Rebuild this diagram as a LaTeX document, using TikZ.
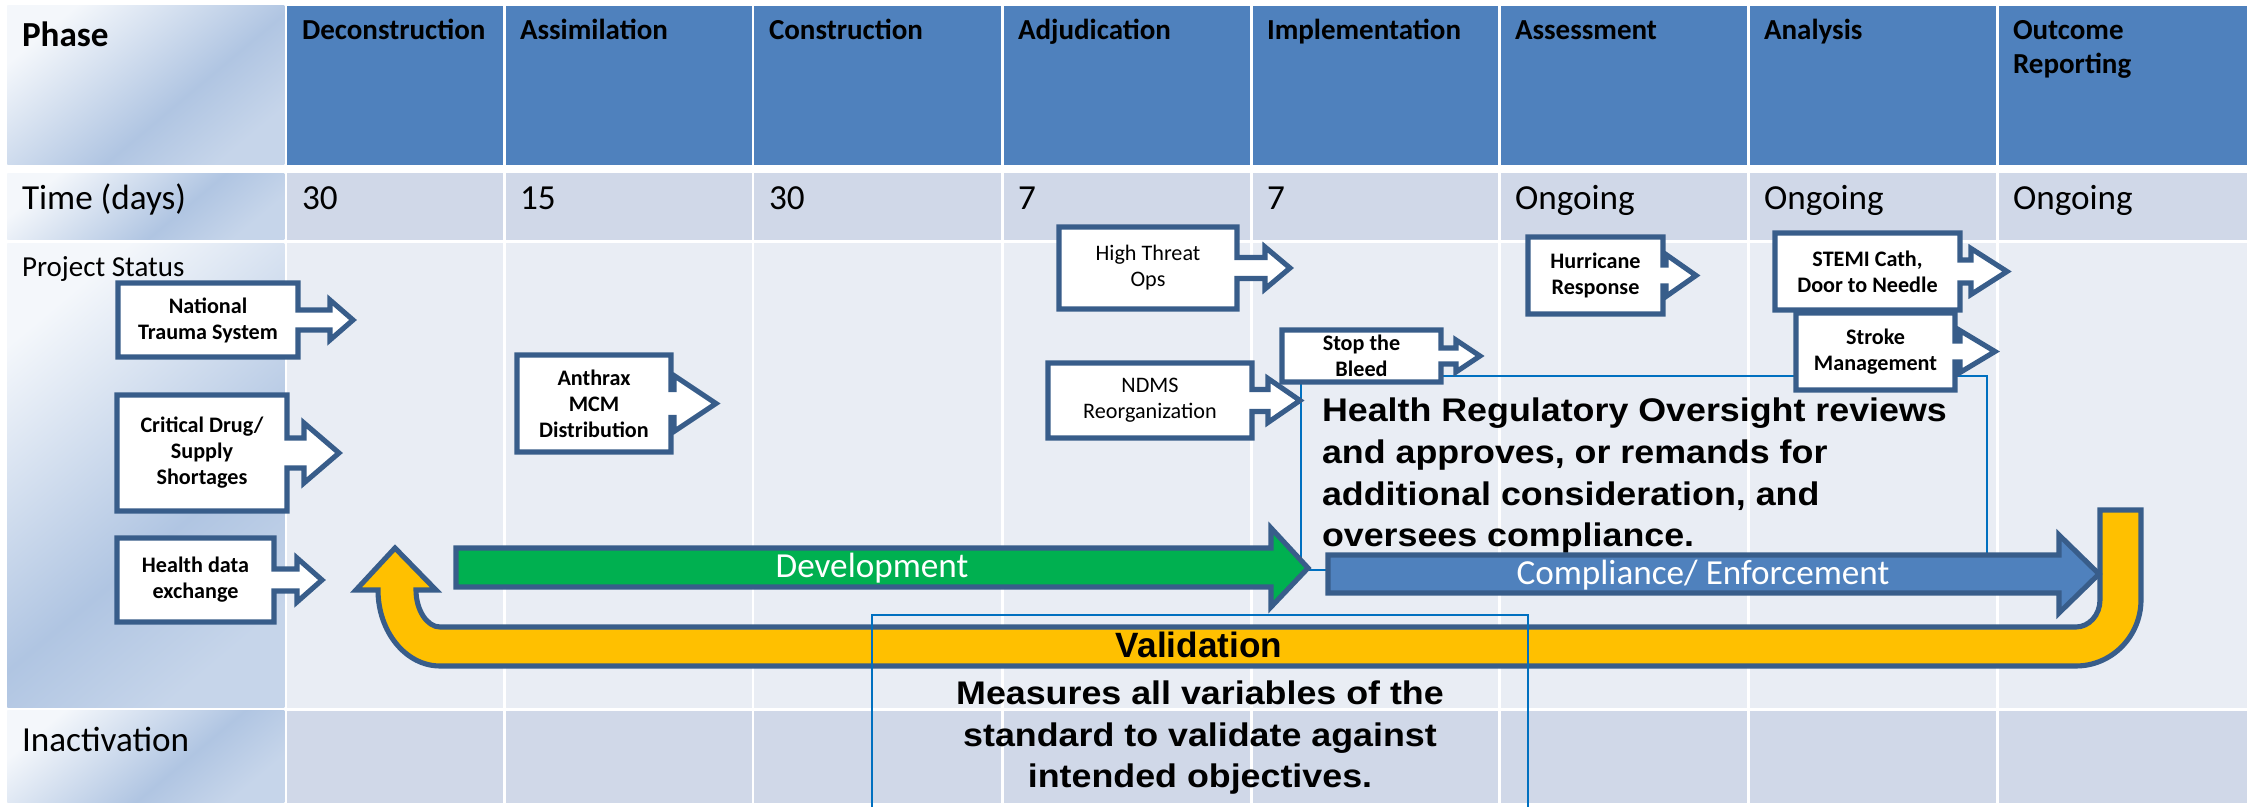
\documentclass[tikz,border=0pt]{standalone}
\usepackage{fontspec}
\setmainfont{Carlito}
\newfontfamily\arialx[FakeStretch=1.095]{Liberation Sans}
\newfontfamily\arialn{Liberation Sans}
\definecolor{hdr}{HTML}{4F81BD}
\definecolor{bandA}{HTML}{D0D8E8}
\definecolor{bandB}{HTML}{E9EDF4}
\definecolor{edge}{HTML}{385D8A}
\definecolor{grn}{HTML}{00B050}
\definecolor{ylw}{HTML}{FFC000}
\definecolor{thin}{HTML}{0070C0}
\definecolor{phA}{HTML}{F4F7FB}
\definecolor{phB}{HTML}{B0C5E2}
\definecolor{phC}{HTML}{C6D5EA}
\pgfdeclareverticalshading{phaseshade}{100bp}{color(0bp)=(phC); color(25bp)=(phC); color(42bp)=(phB); color(75bp)=(phA); color(100bp)=(phA)}
\def\callweight{\bfseries}
\newcommand{\callout}[9]{%
  \pgfmathsetmacro{\cyy}{(#3+#5)/2}%
  \pgfmathsetmacro{\shh}{#8*0.5}%
  \pgfmathsetmacro{\cxx}{(#2+#4)/2}%
  \draw[callbox] (#2,#3) -- (#4,#3) -- (#4,\cyy-\shh) -- (#6,\cyy-\shh) -- (#6,\cyy-#8) -- (#7,\cyy) -- (#6,\cyy+#8) -- (#6,\cyy+\shh) -- (#4,\cyy+\shh) -- (#4,#5) -- (#2,#5) -- cycle;
  \node[calltext] (#1) at (\cxx,\cyy) {#9};
}
\tikzset{
  every node/.style={inner sep=0pt, outer sep=0pt},
  callbox/.style={draw=edge, fill=white, line width=1.45pt, line join=miter},
  calltext/.style={font=\fontsize{6.3}{7.4}\selectfont\callweight, align=center},
  hdrtext/.style={anchor=base west, font=\fontsize{8.25}{9.7}\selectfont\bfseries, align=left},
  rowtext/.style={anchor=base west, font=\fontsize{10}{12}\selectfont},
  bigtext/.style={font=\arialx\bfseries\fontsize{9.3}{11.9}\selectfont},
  thinbox/.style={draw=thin, line width=0.6pt},
  fatarrow/.style={draw=edge, line width=1.45pt, line join=miter},
  gridline/.style={draw=white, line width=0.85pt}
}
\begin{document}
\begin{tikzpicture}[x=0.01cm, y=-0.01cm]
\useasboundingbox (0,0) rectangle (2247,807);
\fill[white] (0,0) rectangle (2247,807);
% table body
\fill[hdr] (287.3,6) rectangle (2247,164.7);
\fill[bandA] (287.3,173.3) rectangle (2247,240);
\fill[bandB] (287.3,243.3) rectangle (2247,708);
\fill[bandA] (287.3,710.7) rectangle (2247,803);
\shade[shading=phaseshade, shading angle=40] (7.3,6) rectangle (284.3,164.7);
\shade[shading=phaseshade, shading angle=40] (7.3,173.3) rectangle (284.3,240);
\shade[shading=phaseshade, shading angle=40] (7.3,243.3) rectangle (284.3,708);
\shade[shading=phaseshade, shading angle=40] (7.3,710.7) rectangle (284.3,803);
\foreach \b in {504.2,753,1002,1251,1499,1748,1997}
  \draw[gridline] (\b,0) -- (\b,807);
% header texts
\node[anchor=base west, font=\fontsize{10}{12}\selectfont\bfseries] (phase) at (22,46.7) {Phase};
\node[hdrtext] (h1) at (302,40) {Deconstruction};
\node[hdrtext] (h2) at (520,40) {Assimilation};
\node[hdrtext] (h3) at (769,40) {Construction};
\node[hdrtext] (h4) at (1018,40) {Adjudication};
\node[hdrtext] (h5) at (1267,40) {Implementation};
\node[hdrtext] (h6) at (1515,40) {Assessment};
\node[hdrtext] (h7) at (1764,40) {Analysis};
\node[hdrtext] (h8) at (2013,74) {Outcome\\Reporting};
% time row
\node[rowtext] (time) at (22,210) {Time (days)};
\node[rowtext] (t1) at (302,210) {30};
\node[rowtext] (t2) at (520,210) {15};
\node[rowtext] (t3) at (769,210) {30};
\node[rowtext] (t4) at (1018,210) {7};
\node[rowtext] (t5) at (1267,210) {7};
\node[rowtext] (t6) at (1515,210) {Ongoing};
\node[rowtext] (t7) at (1764,210) {Ongoing};
\node[rowtext] (t8) at (2013,210) {Ongoing};
\node[anchor=base west, font=\fontsize{8.25}{9.7}\selectfont] (status) at (22,277) {Project Status};
\node[rowtext] (inact) at (22,752) {Inactivation};
% oversight text box
\draw[thinbox] (1301,376) rectangle (1987,570);
\node[bigtext, anchor=base west, align=left] (ovt) at (1322,547) {Health Regulatory Oversight reviews\\and approves, or remands for\\additional consideration, and\\oversees compliance.};
% validation U arrow
\draw[fatarrow, fill=ylw] (395,548) -- (436,590) -- (416,590)
  .. controls (416,610) and (427,627) .. (440,627)
  -- (2076,627)
  .. controls (2089,627) and (2100,615) .. (2100,600)
  -- (2100,510) -- (2141,510) -- (2141,600)
  .. controls (2141,636) and (2112,666) .. (2076,666)
  -- (440,666)
  .. controls (406,666) and (378,632) .. (378,590)
  -- (356,590) -- cycle;
\node[anchor=base, font=\arialn\bfseries\fontsize{10}{12}\selectfont] (val) at (1199,658) {Validation};
% measures text box
\draw[thinbox] (872,807) -- (872,615) -- (1528,615) -- (1528,807);
\node[bigtext, anchor=base, align=center] (meas) at (1200,788) {Measures all variables of the\\standard to validate against\\intended objectives.};
% development arrow
\draw[fatarrow, fill=grn] (456,548) -- (1271,548) -- (1271,528) -- (1308,568) -- (1271,607) -- (1271,587) -- (456,587) -- cycle;
\node[anchor=base, text=white, font=\fontsize{10}{12}\selectfont] (dev) at (872,578) {Development};
% compliance arrow
\draw[fatarrow, fill=hdr] (1328,555) -- (2059,555) -- (2059,535) -- (2099,574) -- (2059,613) -- (2059,593) -- (1328,593) -- cycle;
\node[anchor=base, text=white, font=\fontsize{10}{12}\selectfont] (comp) at (1703,585) {Compliance/ Enforcement};
% callouts
\callout{nts}{118}{283}{298}{357}{330}{353}{20}{National\\Trauma System}
\callout{cds}{117}{395}{287}{511}{304}{339}{30}{Critical Drug/\\Supply\\Shortages}
\callout{hde}{117}{538}{274}{622}{297}{322}{22}{Health data\\exchange}
\callout{anth}{517}{355}{671}{452}{674}{716}{28}{Anthrax\\MCM\\Distribution}
\def\callweight{\mdseries}
\callout{hto}{1059}{227}{1237}{309}{1265}{1290}{21}{High Threat\\Ops}
\callout{ndms}{1048}{363}{1252}{438}{1268}{1300}{22}{NDMS\\Reorganization}
\def\callweight{\bfseries}
\callout{stb}{1282}{330}{1441}{382}{1456}{1480}{16}{Stop the\\Bleed}
\callout{hur}{1528}{237}{1663}{314}{1666}{1696}{21}{Hurricane\\Response}
\callout{stemi}{1775}{233}{1960}{310}{1971}{2007}{23}{STEMI Cath,\\Door to Needle}
\callout{stroke}{1796}{313}{1955}{390}{1960}{1995}{21}{Stroke\\Management}
\end{tikzpicture}
\end{document}
